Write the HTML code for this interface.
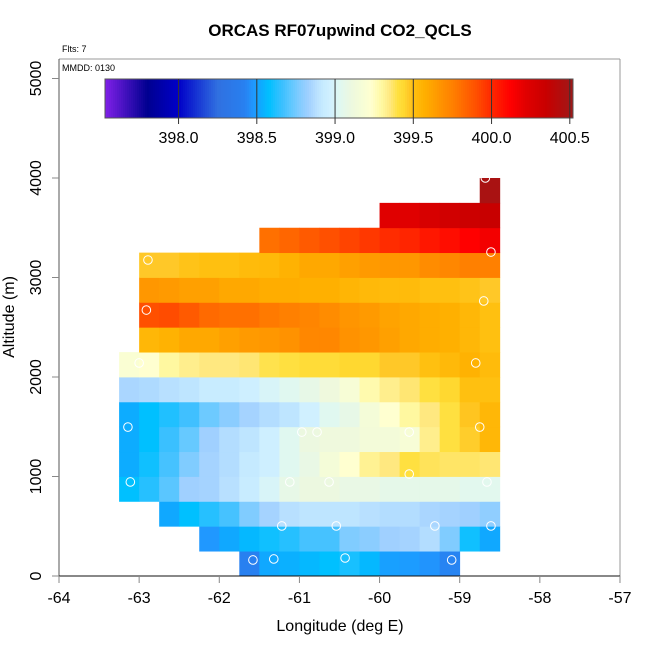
<!DOCTYPE html>
<html><head><meta charset="utf-8"><style>
body{margin:0;background:#fff;}
text{font-family:"Liberation Sans",sans-serif;}
</style></head><body>
<svg id="chart" width="650" height="650" xmlns="http://www.w3.org/2000/svg">
<rect width="650" height="650" fill="#fff"/>
<text x="340" y="36" text-anchor="middle" font-size="17" font-weight="bold">ORCAS RF07upwind CO2_QCLS</text>
<text x="62" y="52" font-size="9">Flts: 7</text>
<text x="62" y="71" font-size="9">MMDD: 0130</text>
<text x="340" y="631" text-anchor="middle" font-size="16">Longitude (deg E)</text>
<text transform="translate(14,317) rotate(-90)" text-anchor="middle" font-size="16">Altitude (m)</text>
<g id="cells"></g><g id="pts"></g><g id="cbar"></g><g id="axes"></g>
</svg>
<script>
const NS="http://www.w3.org/2000/svg";
const lonStart=-63.25, lonStep=0.25, altStep=250;
const rowStartCol=[6,4,2,0,0,0,0,0,0,1,1,1,1,7,13,18];
const rowValues=[
[398.42,398.52,398.54,398.56,398.58,398.61,398.56,398.5,398.49,398.47,398.43],
[398.48,398.52,398.56,398.6,398.63,398.68,398.68,398.77,398.79,398.83,398.84,398.87,398.77,398.6,398.52],
[398.52,398.58,398.63,398.68,398.77,398.84,398.88,398.9,398.9,398.9,398.88,398.87,398.87,398.85,398.84,398.83,398.8],
[398.58,398.63,398.71,398.83,398.84,398.88,398.93,399.0,399.07,399.1,399.1,399.08,399.08,399.06,399.06,399.06,399.06,399.04,399.04],
[398.53,398.6,398.68,398.77,398.84,398.87,398.92,398.96,399.03,399.08,399.16,399.23,399.32,399.35,399.4,399.38,399.37,399.37,399.36],
[398.53,398.58,398.66,398.73,398.83,398.87,398.9,398.96,399.03,399.1,399.12,399.12,399.15,399.15,399.18,399.33,399.4,399.46,399.54],
[398.53,398.58,398.62,398.67,398.74,398.79,398.84,398.87,398.9,398.97,399.03,399.07,399.16,399.23,399.3,399.35,399.4,399.48,399.54],
[398.85,398.86,398.88,398.9,398.93,398.93,398.96,399.0,399.03,399.07,399.12,399.18,399.28,399.33,399.36,399.4,399.44,399.5,399.5],
[399.2,399.23,399.3,399.33,399.35,399.35,399.36,399.39,399.4,399.42,399.42,399.44,399.44,399.47,399.47,399.5,399.53,399.56,399.52],
[399.54,399.56,399.6,399.6,399.63,399.65,399.66,399.68,399.72,399.72,399.68,399.66,399.63,399.6,399.58,399.57,399.54,399.5],
[399.9,399.91,399.87,399.82,399.8,399.8,399.77,399.75,399.73,399.7,399.67,399.65,399.62,399.6,399.58,399.57,399.54,399.5],
[399.66,399.65,399.63,399.63,399.6,399.6,399.58,399.58,399.57,399.57,399.55,399.53,399.52,399.52,399.5,399.5,399.49,399.47],
[399.47,399.47,399.49,399.5,399.5,399.52,399.53,399.56,399.6,399.6,399.63,399.65,399.66,399.66,399.7,399.72,399.75,399.75],
[399.8,399.83,399.87,399.9,399.93,399.96,399.99,400.01,400.05,400.08,400.12,400.16],
[400.22,400.22,400.27,400.3,400.33,400.35],
[400.48]
];
const ptLon=[-62.89,-58.68,-58.61,-62.91,-58.70,-63.0,-58.80,-63.14,-63.11,-60.97,-60.78,-59.63,-58.75,-59.63,-61.12,-60.63,-58.66,-61.22,-60.54,-59.31,-58.61,-61.58,-61.32,-60.43,-59.10];
const ptAlt=[3176,4000,3256,2673,2764,2141,2141,1497,945,1447,1447,1447,1497,1025,945,945,945,503,503,503,503,161,171,181,161];
const xTicks=[-64,-63,-62,-61,-60,-59,-58,-57];
const yTicks=[0,1000,2000,3000,4000,5000];
const cbTicks=[398.0,398.5,399.0,399.5,400.0,400.5];
const stopV=[397.53,397.8,398.0,398.25,398.42,398.48,398.52,398.58,398.62,398.67,398.72,398.77,398.83,398.88,398.93,398.97,399.03,399.1,399.16,399.23,399.3,399.35,399.4,399.44,399.47,399.5,399.57,399.63,399.7,399.75,399.8,399.9,400.0,400.12,400.22,400.35,400.52];
const stopC=["#8020e8","#000090","#0000c8","#3070e0","#2880f0","#2098ff","#10a8ff","#00c0ff","#20c0ff","#40c0ff","#60c8ff","#80ccff","#a0d0ff","#b8e0ff","#c8ecff","#d0f0ff","#e0f8f0","#ecf8e0","#f4fcd8","#ffffd0","#fff8a0","#ffe880","#ffe040","#ffd830","#ffc828","#ffc010","#ffb000","#ffa000","#ff8c00","#ff8000","#ff7000","#ff5000","#ff2800","#ff0000","#e00000","#c80000","#a01818"];
const X=v=>59+(v+64)*80.14, Y=a=>576-a*0.0995;
const CX=v=>105+(v-397.53)*156.5;
function hx(c){return [1,3,5].map(i=>parseInt(c.substr(i,2),16));}
function col(v){
 if(v<=stopV[0])return stopC[0];
 for(let i=1;i<stopV.length;i++){ if(v<=stopV[i]){const t=(v-stopV[i-1])/(stopV[i]-stopV[i-1]);const a=hx(stopC[i-1]),b=hx(stopC[i]);
  return "rgb("+a.map((x,k)=>Math.round(x+(b[k]-x)*t)).join(",")+")";}}
 return stopC[stopC.length-1];
}
function mk(tag,attrs,parent){const e=document.createElementNS(NS,tag);for(const k in attrs)e.setAttribute(k,attrs[k]);parent.appendChild(e);return e;}
const cells=document.getElementById('cells');
rowValues.forEach((row,r)=>{row.forEach((v,j)=>{const c=rowStartCol[r]+j;const l0=lonStart+c*lonStep;
 const x0=X(l0),x1=X(l0+lonStep),y0=Y((r+1)*altStep),y1=Y(r*altStep);
 const e=mk('rect',{x:x0,y:y0,width:x1-x0+0.4,height:y1-y0+0.4,fill:col(v)},cells);
 
 
});});
const pts=document.getElementById('pts');
ptLon.forEach((lo,i)=>{const e=mk('circle',{cx:X(lo),cy:Y(ptAlt[i]),r:4.3,fill:'none',stroke:'#fff','stroke-width':1},pts);
 
 
});
const cb=document.getElementById('cbar');
for(let x=105;x<573;x+=2){const v=397.53+(x+1-105)/156.5;mk('rect',{x:x,y:79,width:2.3,height:39,fill:col(v)},cb);}
const cbBox=mk('rect',{x:105,y:79,width:468,height:39,fill:'none',stroke:'#555','stroke-width':1},cb);


cbTicks.forEach(v=>{const x=CX(v);mk('line',{x1:x,x2:x,y1:79,y2:124,stroke:'#333','stroke-width':1},cb);
 const t=mk('text',{x:x,y:143,'text-anchor':'middle','font-size':16},cb);t.textContent=v.toFixed(1);
 
 
});
const ax=document.getElementById('axes');
mk('line',{x1:59,x2:620,y1:59,y2:59,stroke:'#999'},ax);
mk('line',{x1:620,x2:620,y1:59,y2:576,stroke:'#999'},ax);
mk('line',{x1:59,x2:59,y1:59,y2:576,stroke:'#555'},ax);
mk('line',{x1:59,x2:620,y1:576,y2:576,stroke:'#111'},ax);
xTicks.forEach(v=>{const x=X(v);mk('line',{x1:x,x2:x,y1:576,y2:583,stroke:'#888'},ax);
 const t=mk('text',{x:x,y:603,'text-anchor':'middle','font-size':16},ax);t.textContent=v;
 
 
});
yTicks.forEach(v=>{const y=Y(v);mk('line',{x1:52,x2:59,y1:y,y2:y,stroke:'#888'},ax);
 const t=mk('text',{transform:'translate(41,'+y+') rotate(-90)','text-anchor':'middle','font-size':16},ax);t.textContent=v;
 
 
});
</script>
</body></html>
